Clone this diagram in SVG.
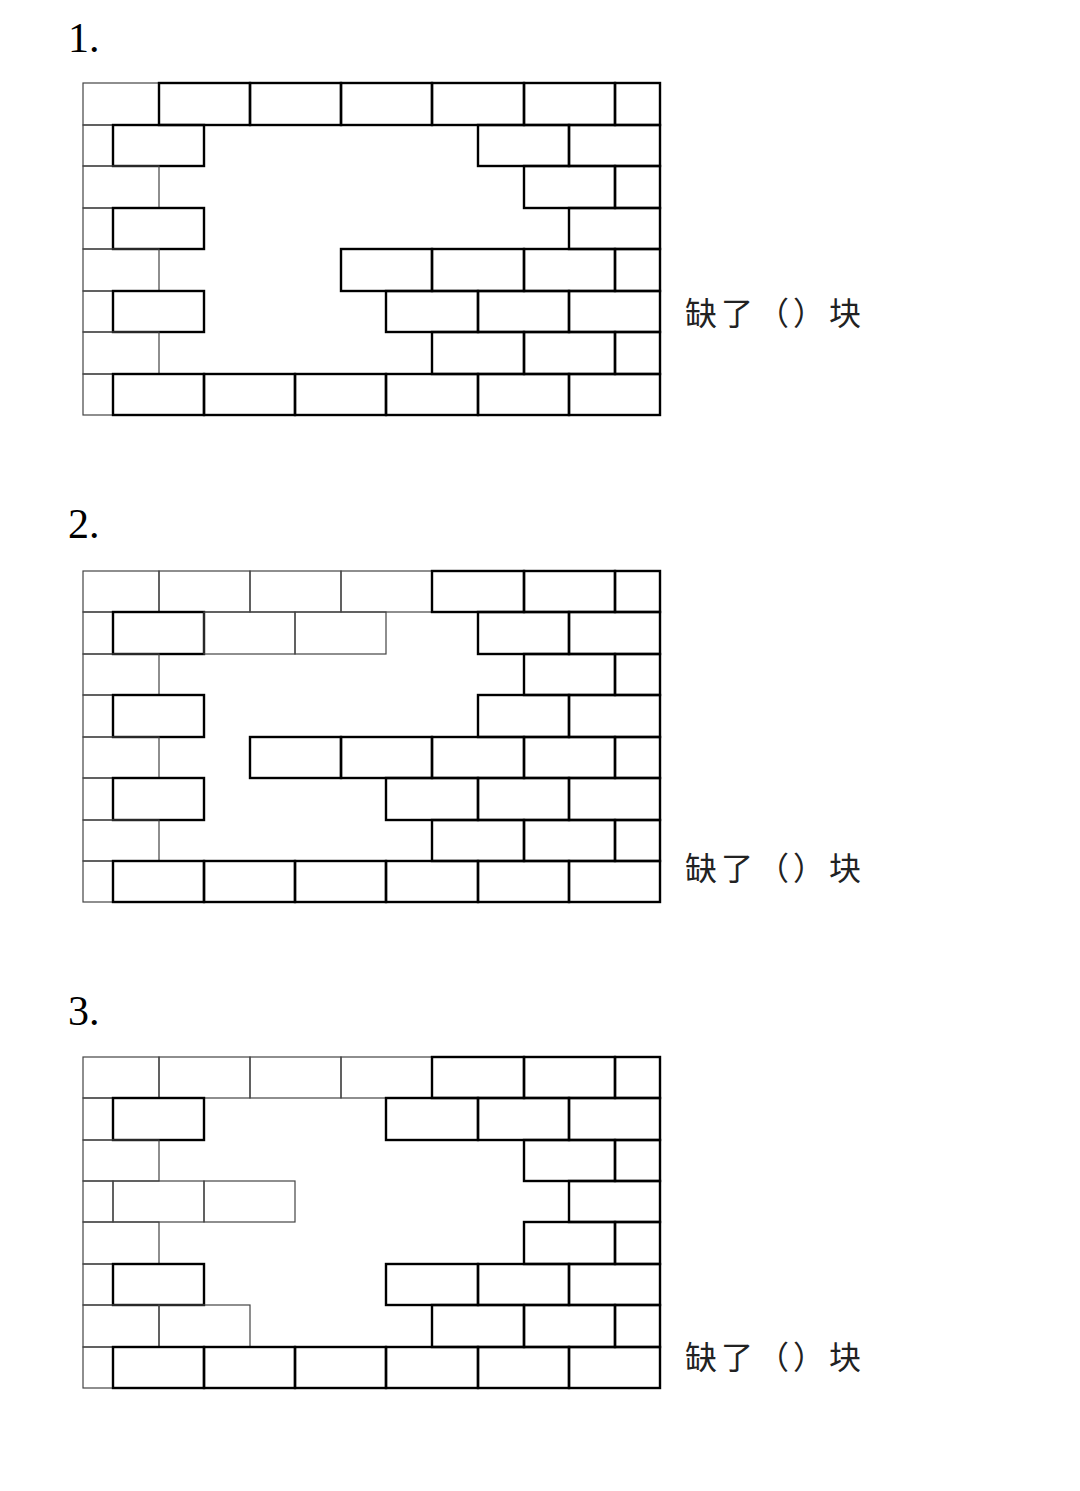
<svg xmlns="http://www.w3.org/2000/svg" width="1080" height="1491" viewBox="0 0 1080 1491">
<style>
.b{fill:none;stroke:#000;stroke-width:2.4}
.t{fill:none;stroke:#444;stroke-width:1.2}
.n{font-family:"Liberation Serif",serif;font-size:42px;fill:#000}
.q{font-family:"Noto Sans CJK SC",sans-serif;font-size:32px;fill:#222;letter-spacing:4px}
</style>
<rect width="1080" height="1491" fill="#fff"/>
<text class="n" x="68" y="52">1.</text>
<text class="n" x="68" y="538">2.</text>
<text class="n" x="68" y="1025">3.</text>
<g id="wall1">
<rect class="t" x="83" y="83" width="76" height="42"/><rect class="b" x="159" y="83" width="91" height="42"/><rect class="b" x="250" y="83" width="91" height="42"/><rect class="b" x="341" y="83" width="91" height="42"/><rect class="b" x="432" y="83" width="92" height="42"/><rect class="b" x="524" y="83" width="91" height="42"/><rect class="b" x="615" y="83" width="45" height="42"/>
<rect class="t" x="83" y="125" width="30" height="41"/><rect class="b" x="113" y="125" width="91" height="41"/><rect class="b" x="478" y="125" width="91" height="41"/><rect class="b" x="569" y="125" width="91" height="41"/>
<rect class="t" x="83" y="166" width="76" height="42"/><rect class="b" x="524" y="166" width="91" height="42"/><rect class="b" x="615" y="166" width="45" height="42"/>
<rect class="t" x="83" y="208" width="30" height="41"/><rect class="b" x="113" y="208" width="91" height="41"/><rect class="b" x="569" y="208" width="91" height="41"/>
<rect class="t" x="83" y="249" width="76" height="42"/><rect class="b" x="341" y="249" width="91" height="42"/><rect class="b" x="432" y="249" width="92" height="42"/><rect class="b" x="524" y="249" width="91" height="42"/><rect class="b" x="615" y="249" width="45" height="42"/>
<rect class="t" x="83" y="291" width="30" height="41"/><rect class="b" x="113" y="291" width="91" height="41"/><rect class="b" x="386" y="291" width="92" height="41"/><rect class="b" x="478" y="291" width="91" height="41"/><rect class="b" x="569" y="291" width="91" height="41"/>
<rect class="t" x="83" y="332" width="76" height="42"/><rect class="b" x="432" y="332" width="92" height="42"/><rect class="b" x="524" y="332" width="91" height="42"/><rect class="b" x="615" y="332" width="45" height="42"/>
<rect class="t" x="83" y="374" width="30" height="41"/><rect class="b" x="113" y="374" width="91" height="41"/><rect class="b" x="204" y="374" width="91" height="41"/><rect class="b" x="295" y="374" width="91" height="41"/><rect class="b" x="386" y="374" width="92" height="41"/><rect class="b" x="478" y="374" width="91" height="41"/><rect class="b" x="569" y="374" width="91" height="41"/>
</g>
<text class="q" x="685" y="325">缺了（）块</text>
<g id="wall2">
<rect class="t" x="83" y="571" width="76" height="41"/><rect class="t" x="159" y="571" width="91" height="41"/><rect class="t" x="250" y="571" width="91" height="41"/><rect class="t" x="341" y="571" width="91" height="41"/><rect class="b" x="432" y="571" width="92" height="41"/><rect class="b" x="524" y="571" width="91" height="41"/><rect class="b" x="615" y="571" width="45" height="41"/>
<rect class="t" x="83" y="612" width="30" height="42"/><rect class="b" x="113" y="612" width="91" height="42"/><rect class="t" x="204" y="612" width="91" height="42"/><rect class="t" x="295" y="612" width="91" height="42"/><rect class="b" x="478" y="612" width="91" height="42"/><rect class="b" x="569" y="612" width="91" height="42"/>
<rect class="t" x="83" y="654" width="76" height="41"/><rect class="b" x="524" y="654" width="91" height="41"/><rect class="b" x="615" y="654" width="45" height="41"/>
<rect class="t" x="83" y="695" width="30" height="42"/><rect class="b" x="113" y="695" width="91" height="42"/><rect class="b" x="478" y="695" width="91" height="42"/><rect class="b" x="569" y="695" width="91" height="42"/>
<rect class="t" x="83" y="737" width="76" height="41"/><rect class="b" x="250" y="737" width="91" height="41"/><rect class="b" x="341" y="737" width="91" height="41"/><rect class="b" x="432" y="737" width="92" height="41"/><rect class="b" x="524" y="737" width="91" height="41"/><rect class="b" x="615" y="737" width="45" height="41"/>
<rect class="t" x="83" y="778" width="30" height="42"/><rect class="b" x="113" y="778" width="91" height="42"/><rect class="b" x="386" y="778" width="92" height="42"/><rect class="b" x="478" y="778" width="91" height="42"/><rect class="b" x="569" y="778" width="91" height="42"/>
<rect class="t" x="83" y="820" width="76" height="41"/><rect class="b" x="432" y="820" width="92" height="41"/><rect class="b" x="524" y="820" width="91" height="41"/><rect class="b" x="615" y="820" width="45" height="41"/>
<rect class="t" x="83" y="861" width="30" height="41"/><rect class="b" x="113" y="861" width="91" height="41"/><rect class="b" x="204" y="861" width="91" height="41"/><rect class="b" x="295" y="861" width="91" height="41"/><rect class="b" x="386" y="861" width="92" height="41"/><rect class="b" x="478" y="861" width="91" height="41"/><rect class="b" x="569" y="861" width="91" height="41"/>
</g>
<text class="q" x="685" y="880">缺了（）块</text>
<g id="wall3">
<rect class="t" x="83" y="1057" width="76" height="41"/><rect class="t" x="159" y="1057" width="91" height="41"/><rect class="t" x="250" y="1057" width="91" height="41"/><rect class="t" x="341" y="1057" width="91" height="41"/><rect class="b" x="432" y="1057" width="92" height="41"/><rect class="b" x="524" y="1057" width="91" height="41"/><rect class="b" x="615" y="1057" width="45" height="41"/>
<rect class="t" x="83" y="1098" width="30" height="42"/><rect class="b" x="113" y="1098" width="91" height="42"/><rect class="b" x="386" y="1098" width="92" height="42"/><rect class="b" x="478" y="1098" width="91" height="42"/><rect class="b" x="569" y="1098" width="91" height="42"/>
<rect class="t" x="83" y="1140" width="76" height="41"/><rect class="b" x="524" y="1140" width="91" height="41"/><rect class="b" x="615" y="1140" width="45" height="41"/>
<rect class="t" x="83" y="1181" width="30" height="41"/><rect class="t" x="113" y="1181" width="91" height="41"/><rect class="t" x="204" y="1181" width="91" height="41"/><rect class="b" x="569" y="1181" width="91" height="41"/>
<rect class="t" x="83" y="1222" width="76" height="42"/><rect class="b" x="524" y="1222" width="91" height="42"/><rect class="b" x="615" y="1222" width="45" height="42"/>
<rect class="t" x="83" y="1264" width="30" height="41"/><rect class="b" x="113" y="1264" width="91" height="41"/><rect class="b" x="386" y="1264" width="92" height="41"/><rect class="b" x="478" y="1264" width="91" height="41"/><rect class="b" x="569" y="1264" width="91" height="41"/>
<rect class="t" x="83" y="1305" width="76" height="42"/><rect class="t" x="159" y="1305" width="91" height="42"/><rect class="b" x="432" y="1305" width="92" height="42"/><rect class="b" x="524" y="1305" width="91" height="42"/><rect class="b" x="615" y="1305" width="45" height="42"/>
<rect class="t" x="83" y="1347" width="30" height="41"/><rect class="b" x="113" y="1347" width="91" height="41"/><rect class="b" x="204" y="1347" width="91" height="41"/><rect class="b" x="295" y="1347" width="91" height="41"/><rect class="b" x="386" y="1347" width="92" height="41"/><rect class="b" x="478" y="1347" width="91" height="41"/><rect class="b" x="569" y="1347" width="91" height="41"/>
</g>
<text class="q" x="685" y="1369">缺了（）块</text>
</svg>
